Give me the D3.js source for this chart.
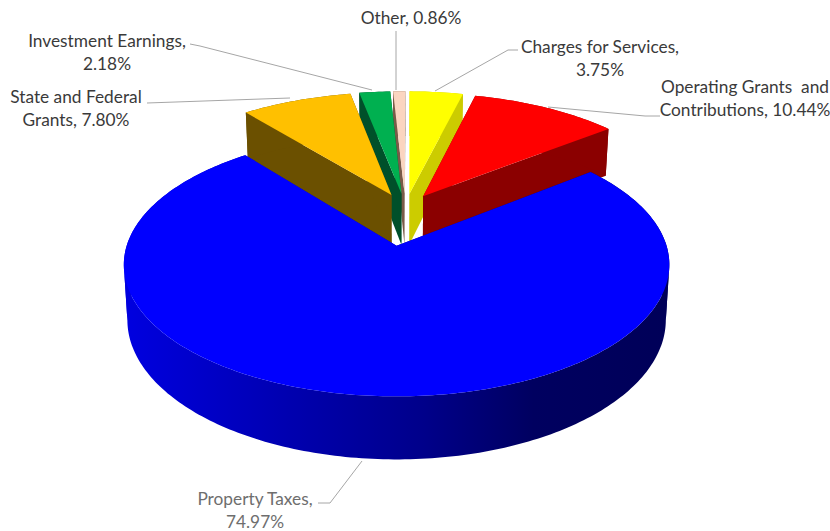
<!DOCTYPE html>
<html>
<head>
<meta charset="utf-8">
<script src="https://cdn.jsdelivr.net/npm/d3@7"></script>
<style>
html,body{margin:0;padding:0;background:#fff}
svg{display:block}
text{font-family:Lato,"Open Sans",sans-serif;font-size:17.3px;text-anchor:middle}
</style>
</head>
<body>
<svg id="chart" width="830" height="531"></svg>
<script>
// Revenue shares, in percent, clockwise from the first slice
const categories = ["Property Taxes","State and Federal Grants","Investment Earnings","Other","Charges for Services","Operating Grants and Contributions"];
const shares = [74.97,7.80,2.18,0.86,3.75,10.44];
const topColors = ["#0000ff","#ffc000","#00b050","#fbd5c0","#ffff00","#ff0000"];
const wallColors = ["url(#blueWall)","#6b5000","#00502a","#7a5a48","#cccc00","#8b0000"];

// Label text, broken the way it is set on the chart
const labelLines = [
  ["Property Taxes,","74.97%"],
  ["State and Federal","Grants, 7.80%"],
  ["Investment Earnings,","2.18%"],
  ["Other, 0.86%"],
  ["Charges for Services,","3.75%"],
  ["Operating Grants  and","Contributions, 10.44%"]
];
const labelAnchors = [[255,505],[76,103],[107,47],[411,24],[600,53],[745,93]];
const leaders = [
  [[318,503],[330,503],[362,461]],
  [[147,103],[290,98]],
  [[190,44],[200,46],[372,90]],
  [[396,31],[396,90]],
  [[518,50],[508,50],[435,91]],
  [[660,116],[645,116],[548,107]]
];

// How far each slice is pulled from the pie centre, in pie radii
const explode = [0.30,0.13,0.13,0.13,0.13,0.13];

// Perspective projection of the tilted pie plane onto the page
const view = {x0:397.6,y0:246,a:270,b:129,p:0.144,depth:54,radius:1.02};
const centre = {u:0.03,v:-0.30};
const project = (u,v,down) => {
  const t = 1/(1 - view.p*v);
  const shrink = down ? 0.987 : 1;
  return [view.x0 + view.a*u*t*shrink, view.y0 + view.b*v*t + (down ? view.depth*t : 0)];
};

const deg = Math.PI/180;
const pie = d3.pie().sort(null).startAngle(51.5*deg).endAngle(411.5*deg);
const slices = pie(shares).map((s,i)=>{
  const mid = (s.startAngle+s.endAngle)/2;
  const r = i===0 ? 1 : view.radius;
  const cu = centre.u + explode[i]*Math.sin(mid);
  const cv = centre.v - explode[i]*Math.cos(mid);
  const n = Math.max(4,Math.ceil((s.endAngle-s.startAngle)/deg));
  const rim = d3.range(n+1).map(k=>{
    const th = s.startAngle + (s.endAngle-s.startAngle)*k/n;
    return [cu + r*Math.sin(th), cv - r*Math.cos(th)];
  });
  return {i,cu,cv,rim};
});

const svg = d3.select("#chart");
const defs = svg.append("defs");
const grad = defs.append("linearGradient").attr("id","blueWall")
  .attr("gradientUnits","userSpaceOnUse").attr("x1",124).attr("x2",670).attr("y1",0).attr("y2",0);
[[0,"#0000e0"],[0.3,"#0000b0"],[0.55,"#00008a"],[0.75,"#000060"],[1,"#000058"]].forEach(([o,c])=>
  grad.append("stop").attr("offset",o).attr("stop-color",c));

const line = d3.line();
const poly = pts => line(pts)+"Z";

// Side wall under a run of rim points
const band = pts => poly([
  ...pts.map(p=>project(p[0],p[1],false)),
  ...pts.slice().reverse().map(p=>project(p[0],p[1],true))
]);

// Break a rim where it turns back horizontally, so no band folds over itself
const monotonicRuns = rim => {
  const runs = [[rim[0]]];
  let dir = 0;
  d3.pairs(rim).forEach(([a,b])=>{
    const d = Math.sign(project(b[0],b[1],false)[0]-project(a[0],a[1],false)[0]);
    if (dir && d && d!==dir) runs.push([a]);
    if (d) dir = d;
    runs[runs.length-1].push(b);
  });
  return runs;
};

// Slices are painted back to front, the large one last since it sits nearest
const paintOrder = [3,2,4,1,5,0];
paintOrder.forEach(i=>{
  const s = slices[i];
  const g = svg.append("g").attr("class","slice");
  const top = [[s.cu,s.cv],...s.rim];
  const first = s.rim[0], last = s.rim[s.rim.length-1];
  const wall = pts => g.append("path").attr("d",band(pts)).attr("fill",wallColors[i]);
  wall([[s.cu,s.cv],first]);
  wall([[s.cu,s.cv],last]);
  monotonicRuns(s.rim).forEach(wall);
  g.append("path").attr("d",poly(top.map(p=>project(p[0],p[1],false)))).attr("fill",topColors[i]);
});

// Leader lines and labels
svg.append("g").selectAll("path").data(leaders).join("path")
  .attr("d",d=>line(d)).attr("fill","none").attr("stroke","#a6a6a6").attr("stroke-width",1);

const lab = svg.append("g").selectAll("text").data(labelLines).join("text")
  .attr("fill",(d,i)=>i===0?"#6e6e6e":"#3a3a3a");
lab.selectAll("tspan").data((d,i)=>d.map((t,k)=>({t,k,i}))).join("tspan")
  .attr("x",d=>labelAnchors[d.i][0])
  .attr("y",d=>labelAnchors[d.i][1]+d.k*23)
  .attr("xml:space","preserve")
  .text(d=>d.t);
</script>
</body>
</html>
